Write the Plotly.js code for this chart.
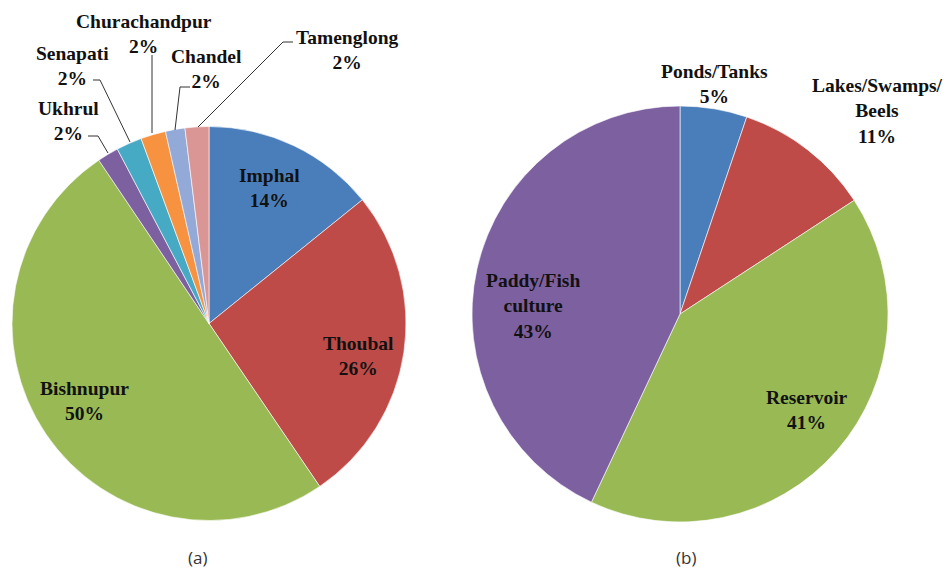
<!DOCTYPE html>
<html>
<head>
<meta charset="utf-8">
<script src="https://cdn.plot.ly/plotly-3.0.1.min.js"></script>
<style>
html,body{margin:0;padding:0;background:#fff;}
#chart{width:946px;height:571px;}
</style>
</head>
<body>
<div id="chart"></div>
<script>
// ---- Data: (a) districts ----
const districts = ["Imphal", "Thoubal", "Bishnupur", "Ukhrul", "Senapati", "Churachandpur", "Chandel", "Tamenglong"];
const districtValues = [14.2, 26.3, 50.05, 1.75, 2.1, 2.05, 1.6, 1.95];
const districtColors = ["#4A7EBB", "#BE4B48", "#98B954", "#7D60A0", "#46AAC5", "#F69240", "#93A9D7", "#DA9694"];

// ---- Data: (b) water resource types ----
const resources = ["Ponds/Tanks", "Lakes/Swamps/<br>Beels", "Reservoir", "Paddy/Fish<br>culture"];
const resourceValues = [5.2, 10.6, 41.2, 43.0];
const resourceColors = ["#4A7EBB", "#BE4B48", "#98B954", "#7D60A0"];

const panelLabels = ["(a)", "(b)"];

// ---- Layout helpers (pixel -> paper) ----
const W = 946, H = 571;
const px = x => x / W;
const py = y => 1 - y / H;

// pie geometry (centre x, centre y, radius) in pixels
const pieA = {cx: 209, cy: 323.5, r: 197};
const pieB = {cx: 680, cy: 314, r: 208};
function dom(p) {
  return {x: [px(p.cx - p.r), px(p.cx + p.r)], y: [py(p.cy + p.r), py(p.cy - p.r)]};
}

// label centre positions (pixels)
const posA = [[269, 188], [358, 356], [84, 401], [68, 121], [72, 66], [144, 34], [206, 69], [347, 50]];
const posB = [[714, 84], [877, 111], [807, 410], [533, 306]];

// leader lines for small slices (pixel paths)
const leaders = [
  [[88, 136], [98, 136], [108, 153]],
  [[93, 80], [100, 80], [130, 142]],
  [[152, 55], [152, 133]],
  [[190, 87], [180, 87], [175, 130]],
  [[293, 42], [283, 42], [198, 127]]
];

const pctText = (vals) => {
  const s = vals.reduce((a, b) => a + b, 0);
  return vals.map(v => Math.round(v / s * 100) + "%");
};

const traces = [
  {
    type: "pie", labels: districts, values: districtValues, sort: false,
    direction: "clockwise", rotation: 0, textinfo: "none",
    marker: {colors: districtColors, line: {color: "rgba(255,255,255,0.6)", width: 1}},
    domain: dom(pieA), showlegend: false
  },
  {
    type: "pie", labels: resources, values: resourceValues, sort: false,
    direction: "clockwise", rotation: 0, textinfo: "none",
    marker: {colors: resourceColors, line: {color: "rgba(255,255,255,0.6)", width: 1}},
    domain: dom(pieB), showlegend: false
  }
];

const labelFont = {family: "Liberation Serif, Times New Roman, serif", size: 19.5, color: "#111111"};
const annotations = [];
const pa = pctText(districtValues);
districts.forEach((d, i) => {
  annotations.push({
    xref: "paper", yref: "paper", x: px(posA[i][0]), y: py(posA[i][1]),
    xanchor: "center", yanchor: "middle", showarrow: false,
    text: "<b>" + d + "<br>" + pa[i] + "</b>", font: labelFont, align: "center"
  });
});
const pb = pctText(resourceValues);
resources.forEach((d, i) => {
  annotations.push({
    xref: "paper", yref: "paper", x: px(posB[i][0]), y: py(posB[i][1]),
    xanchor: "center", yanchor: "middle", showarrow: false,
    text: "<b>" + d + "<br>" + pb[i] + "</b>", font: labelFont, align: "center"
  });
});
const panelFont = {family: "Open Sans, Liberation Sans, sans-serif", size: 17, color: "#333"};
annotations.push({xref: "paper", yref: "paper", x: px(197), y: py(557), xanchor: "center", yanchor: "middle", showarrow: false, text: panelLabels[0], font: panelFont});
annotations.push({xref: "paper", yref: "paper", x: px(686), y: py(557), xanchor: "center", yanchor: "middle", showarrow: false, text: panelLabels[1], font: panelFont});

const shapes = leaders.map(pts => ({
  type: "path", xref: "paper", yref: "paper",
  path: pts.map((p, k) => (k ? "L " : "M ") + px(p[0]) + " " + py(p[1])).join(" "),
  line: {color: "#333", width: 1}
}));

const layout = {
  width: W, height: H,
  margin: {l: 0, r: 0, t: 0, b: 0},
  paper_bgcolor: "#fff", plot_bgcolor: "#fff",
  showlegend: false,
  annotations: annotations,
  shapes: shapes
};

Plotly.newPlot("chart", traces, layout, {displayModeBar: false, staticPlot: true});
</script>
</body>
</html>
